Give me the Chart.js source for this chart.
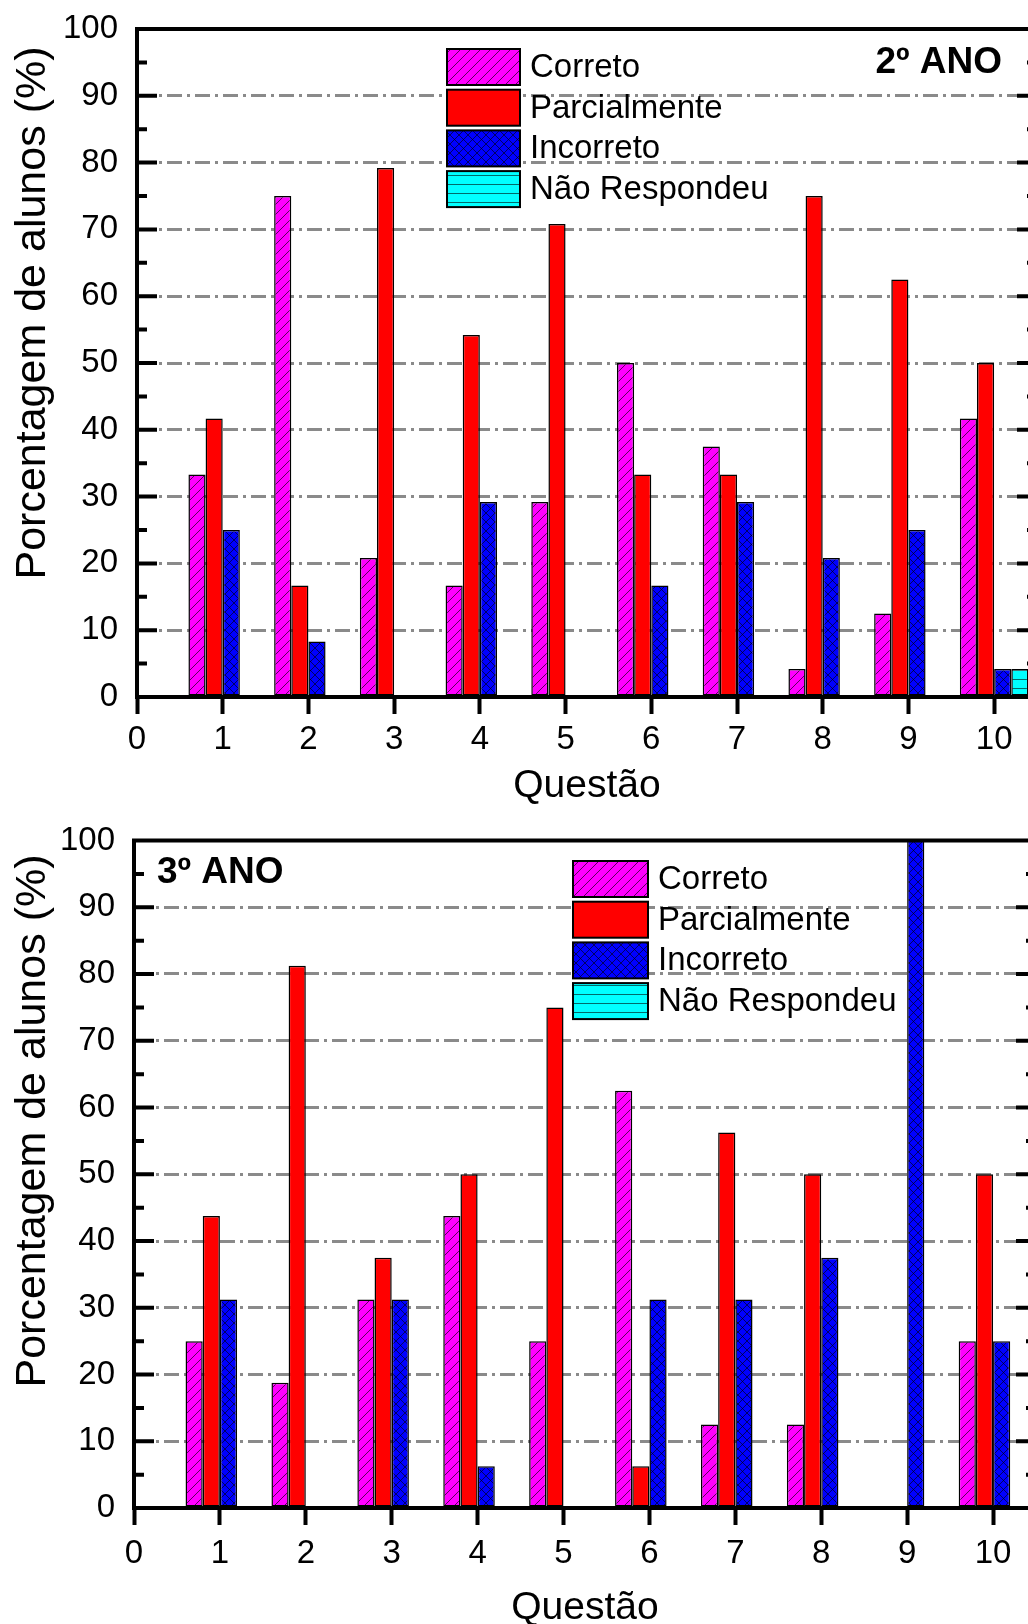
<!DOCTYPE html>
<html>
<head>
<meta charset="utf-8">
<script src="https://cdn.jsdelivr.net/npm/chart.js@4.4.1/dist/chart.umd.min.js"></script>
<style>
html, body { margin: 0; padding: 0; background: #fff; overflow: hidden; width: 1028px; height: 1624px; }
#wrapA { position: absolute; left: 0; top: 0; width: 1060px; height: 810px; }
#wrapB { position: absolute; left: 0; top: 810px; width: 1060px; height: 814px; }
canvas { display: block; }
</style>
</head>
<body>
<div id="wrapA"><canvas id="chartA" width="1060" height="810"></canvas></div>
<div id="wrapB"><canvas id="chartB" width="1060" height="814"></canvas></div>
<script>
// ---------------- data ----------------
const questions = [1, 2, 3, 4, 5, 6, 7, 8, 9, 10];
const seriesNames = ['Correto', 'Parcialmente', 'Incorreto', 'Não Respondeu'];

const ano2Correto   = [33.3, 75.0, 20.8, 16.7, 29.2, 50.0, 37.5, 4.2, 12.5, 41.7];
const ano2Parcial   = [41.7, 16.7, 79.2, 54.2, 70.8, 33.3, 33.3, 75.0, 62.5, 50.0];
const ano2Incorreto = [25.0, 8.3, 0, 29.2, 0, 16.7, 29.2, 20.8, 25.0, 4.2];
const ano2NaoResp   = [0, 0, 0, 0, 0, 0, 0, 0, 0, 4.2];

const ano3Correto   = [25.0, 18.75, 31.25, 43.75, 25.0, 62.5, 12.5, 12.5, 0, 25.0];
const ano3Parcial   = [43.75, 81.25, 37.5, 50.0, 75.0, 6.25, 56.25, 50.0, 0, 50.0];
const ano3Incorreto = [31.25, 0, 31.25, 6.25, 0, 31.25, 31.25, 37.5, 100, 25.0];
const ano3NaoResp   = [0, 0, 0, 0, 0, 0, 0, 0, 0, 0];

const yTickValues = [0, 10, 20, 30, 40, 50, 60, 70, 80, 90, 100];
const xTickValues = [0, 1, 2, 3, 4, 5, 6, 7, 8, 9, 10];
const yTitle = 'Porcentagem de alunos (%)';
const xTitle = 'Questão';
const panelLabels = ['2º ANO', '3º ANO'];

// ---------------- styles ----------------
const FONT = '"Liberation Sans", Arial, sans-serif';
Chart.defaults.font.family = FONT;
Chart.defaults.color = '#000';

function makePattern(base, kind) {
  if (kind === 'solid') return base;
  const s = kind === 'cross' ? 9 : (kind === 'horiz' ? 9 : 10);
  const c = document.createElement('canvas');
  c.width = s; c.height = s;
  const g = c.getContext('2d');
  g.fillStyle = base;
  g.fillRect(0, 0, s, s);
  g.strokeStyle = kind === 'horiz' ? 'rgba(0,70,70,0.8)' : (kind === 'cross' ? 'rgba(0,0,0,0.6)' : 'rgba(40,0,40,0.75)');
  g.lineWidth = 1;
  g.beginPath();
  if (kind === 'diag' || kind === 'cross') {
    g.moveTo(-1, s + 1); g.lineTo(s + 1, -1);
    g.moveTo(-1, 1); g.lineTo(1, -1);
    g.moveTo(s - 1, s + 1); g.lineTo(s + 1, s - 1);
  }
  if (kind === 'cross') {
    g.moveTo(-1, -1); g.lineTo(s + 1, s + 1);
    g.moveTo(s - 1, -1); g.lineTo(s + 1, 1);
    g.moveTo(-1, s - 1); g.lineTo(1, s + 1);
  }
  if (kind === 'horiz') {
    g.moveTo(0, 4.5); g.lineTo(s, 4.5);
  }
  g.stroke();
  return g.createPattern(c, 'repeat');
}

const fills = [
  makePattern('#ff00ff', 'diag'),
  makePattern('#ff0000', 'solid'),
  makePattern('#0000ff', 'cross'),
  makePattern('#00ffff', 'horiz')
];

// ---------------- plugin: frame, inward ticks, legend, labels ----------------
const extras = {
  id: 'extras',
  afterDatasetsDraw(chart) {
    const o = chart.options.plugins.extras;
    const { ctx, chartArea: a } = chart;
    const y = chart.scales.y;
    ctx.save();
    // frame
    ctx.strokeStyle = '#000';
    ctx.lineWidth = 4;
    ctx.lineCap = 'square';
    ctx.beginPath();
    ctx.moveTo(a.left, a.top); ctx.lineTo(a.right, a.top);
    ctx.lineTo(a.right, a.bottom); ctx.lineTo(a.left, a.bottom);
    ctx.closePath();
    ctx.stroke();
    // inward y ticks (left and right), minors halfway
    ctx.lineCap = 'butt';
    const vals = y.ticks.map(t => t.value);
    ctx.beginPath();
    for (let i = 0; i < vals.length; i++) {
      const py = y.getPixelForValue(vals[i]);
      if (i > 0 && i < vals.length - 1) {
        ctx.moveTo(a.left, py); ctx.lineTo(a.left + 20, py);
        ctx.moveTo(a.right, py); ctx.lineTo(a.right - 20, py);
      }
      if (i < vals.length - 1) {
        const pm = y.getPixelForValue((vals[i] + vals[i + 1]) / 2);
        ctx.moveTo(a.left, pm); ctx.lineTo(a.left + 10, pm);
        ctx.moveTo(a.right, pm); ctx.lineTo(a.right - 10, pm);
      }
    }
    ctx.stroke();

    // legend
    ctx.font = '33px ' + FONT;
    ctx.textBaseline = 'middle';
    ctx.textAlign = 'left';
    chart.data.datasets.forEach((ds, i) => {
      const lx = a.left + o.legendDx;
      const ly = a.top + o.legendDy + i * o.legendPitch;
      ctx.fillStyle = ds.backgroundColor;
      ctx.fillRect(lx, ly, o.swatchW, 36);
      ctx.strokeStyle = '#000';
      ctx.lineWidth = 2;
      ctx.strokeRect(lx, ly, o.swatchW, 36);
      ctx.fillStyle = '#000';
      ctx.fillText(ds.label, lx + o.swatchW + 10, ly + 19);
    });

    // panel label
    ctx.font = 'bold 37px ' + FONT;
    ctx.textBaseline = 'alphabetic';
    ctx.textAlign = o.labelAlign;
    ctx.fillText(o.label, a.left + o.labelDx, a.top + o.labelDy);

    // y title
    ctx.font = '43px ' + FONT;
    ctx.textAlign = 'center';
    ctx.textBaseline = 'middle';
    ctx.translate(o.yTitleX, a.top + o.yTitleDy);
    ctx.rotate(-Math.PI / 2);
    ctx.fillText(yTitle, 0, 0);
    ctx.restore();
  }
};

function buildChart(id, series, cfg) {
  const datasets = seriesNames.map((name, i) => ({
    label: name,
    data: questions.map((q, k) => ({ x: q, y: series[i][k] })),
    backgroundColor: fills[i],
    borderColor: '#000',
    borderWidth: 1.5,
    borderSkipped: false,
    categoryPercentage: 0.8,
    barPercentage: 1.0
  }));
  return new Chart(document.getElementById(id), {
    type: 'bar',
    data: { datasets },
    plugins: [extras],
    options: {
      responsive: false,
      animation: false,
      events: [],
      layout: { padding: { top: cfg.padTop, right: cfg.padRight, left: 0, bottom: 0 } },
      plugins: {
        legend: { display: false },
        tooltip: { enabled: false },
        extras: cfg.extras
      },
      scales: {
        x: {
          type: 'linear',
          min: 0,
          max: 10.5,
          offset: false,
          afterBuildTicks: s => { s.ticks = xTickValues.map(v => ({ value: v })); },
          afterFit: s => { s.height = cfg.xHeight; },
          ticks: { autoSkip: false, maxRotation: 0, padding: cfg.xTickPad, color: '#000',
                   font: { size: 33, lineHeight: 1.2 } },
          grid: { offset: false, drawOnChartArea: false, drawTicks: true, tickLength: 17,
                  tickWidth: 4, tickColor: '#000', color: 'rgba(0,0,0,0)' },
          border: { display: true, width: 4, color: '#000' },
          title: { display: true, text: xTitle, color: '#000',
                   font: { size: 39, lineHeight: cfg.xTitleLH }, padding: { top: 0, bottom: cfg.xTitlePad } }
        },
        y: {
          min: 0,
          max: 100,
          afterBuildTicks: s => { s.ticks = yTickValues.map(v => ({ value: v })); },
          afterFit: s => { s.width = cfg.yWidth; },
          ticks: { padding: 0, color: '#000', font: { size: 33, lineHeight: 1.2 } },
          grid: {
            drawTicks: true,
            tickLength: 19,
            tickColor: 'rgba(0,0,0,0)',
            lineWidth: 3,
            color: c => (c.tick && c.tick.value > 0 && c.tick.value < 100) ? '#8a8a8a' : 'rgba(0,0,0,0)'
          },
          border: { display: true, width: 4, color: '#000', dash: [15, 5, 3, 5] }
        }
      }
    }
  });
}

buildChart('chartA', [ano2Correto, ano2Parcial, ano2Incorreto, ano2NaoResp], {
  padTop: 29, padRight: 23, yWidth: 137, xHeight: 113, xTickPad: 6, xTitlePad: 4, xTitleLH: 1,
  extras: { legendDx: 310, legendDy: 20, legendPitch: 40.7, swatchW: 73,
            label: panelLabels[0], labelAlign: 'right', labelDx: 865, labelDy: 44,
            yTitleX: 33, yTitleDy: 284 }
});

buildChart('chartB', [ano3Correto, ano3Parcial, ano3Incorreto, ano3NaoResp], {
  padTop: 30.5, padRight: 24, yWidth: 134, xHeight: 116, xTickPad: 9, xTitlePad: 0, xTitleLH: 0.8,
  extras: { legendDx: 439, legendDy: 20.5, legendPitch: 40.7, swatchW: 75,
            label: panelLabels[1], labelAlign: 'left', labelDx: 23, labelDy: 42.5,
            yTitleX: 33, yTitleDy: 280.5 }
});
</script>
</body>
</html>
